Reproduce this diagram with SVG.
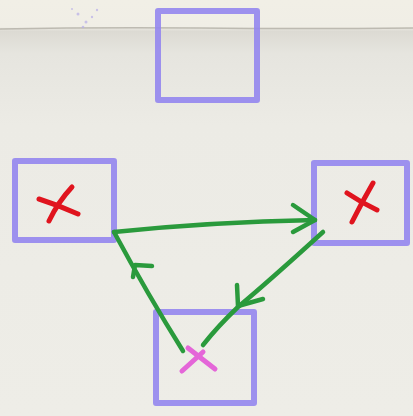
<svg xmlns="http://www.w3.org/2000/svg" width="413" height="416" viewBox="0 0 413 416">
  <defs>
    <linearGradient id="paper" x1="0" y1="0" x2="0" y2="1">
      <stop offset="0" stop-color="#f1efe6"/>
      <stop offset="0.065" stop-color="#f0eee6"/>
      <stop offset="0.075" stop-color="#dcdad3"/>
      <stop offset="0.13" stop-color="#e6e5df"/>
      <stop offset="0.3" stop-color="#ecebe5"/>
      <stop offset="1" stop-color="#eeede7"/>
    </linearGradient>
    <style>
      .box { fill: none; stroke: #9486ee; stroke-width: 6; stroke-linejoin: round; stroke-linecap: round; opacity: 0.9; }
      .edge { fill: none; stroke: #2a9a3c; stroke-width: 4.5; stroke-linecap: round; stroke-linejoin: round; }
      .mark { fill: none; stroke: #e0141e; stroke-width: 5; stroke-linecap: round; }
      .pink { fill: none; stroke: #e466d8; stroke-width: 5; stroke-linecap: round; }
    </style>
  </defs>
  <rect width="413" height="416" fill="url(#paper)"/>
  <path d="M0 29 Q100 27 200 28 T413 28" fill="none" stroke="#a9a69c" stroke-width="1.5" opacity="0.7"/>
  <g fill="#b8aee8" opacity="0.7">
    <circle cx="78" cy="14" r="1.5"/><circle cx="86" cy="22" r="1.5"/><circle cx="92" cy="17" r="1.2"/>
    <circle cx="97" cy="10" r="1.2"/><circle cx="72" cy="9" r="1"/><circle cx="83" cy="27" r="1.3"/>
  </g>

  <g id="node-top">
    <rect class="box" x="158" y="11" width="99" height="89"/>
  </g>
  <g id="node-left">
    <rect class="box" x="15" y="161" width="99" height="79"/>
    <path class="mark" d="M39 199 Q58 205 78 214"/>
    <path class="mark" d="M72 187 Q58 202 49 221"/>
  </g>
  <g id="node-right">
    <rect class="box" x="314" y="163" width="93" height="80"/>
    <path class="mark" d="M347 193 Q362 203 377 210"/>
    <path class="mark" d="M373 183 Q362 202 352 222"/>
  </g>
  <g id="node-bottom">
    <rect class="box" x="156" y="312" width="98" height="91"/>
    <path class="pink" d="M182 371 L203 352"/>
    <path class="pink" d="M188 348 L215 369"/>
  </g>

  <g id="connectors">
    <path class="edge" d="M114 232 Q210 222 315 220"/>
    <path class="edge" d="M293 205 L315 220 L293 232"/>
    <path class="edge" d="M323 232 Q268 282 238 307 Q218 326 203 345"/>
    <path class="edge" d="M237 285 L238 306 L263 299"/>
    <path class="edge" d="M183 351 Q148 295 114 232"/>
    <path class="edge" d="M152 266 L135 265 L133 277"/>
  </g>
</svg>
